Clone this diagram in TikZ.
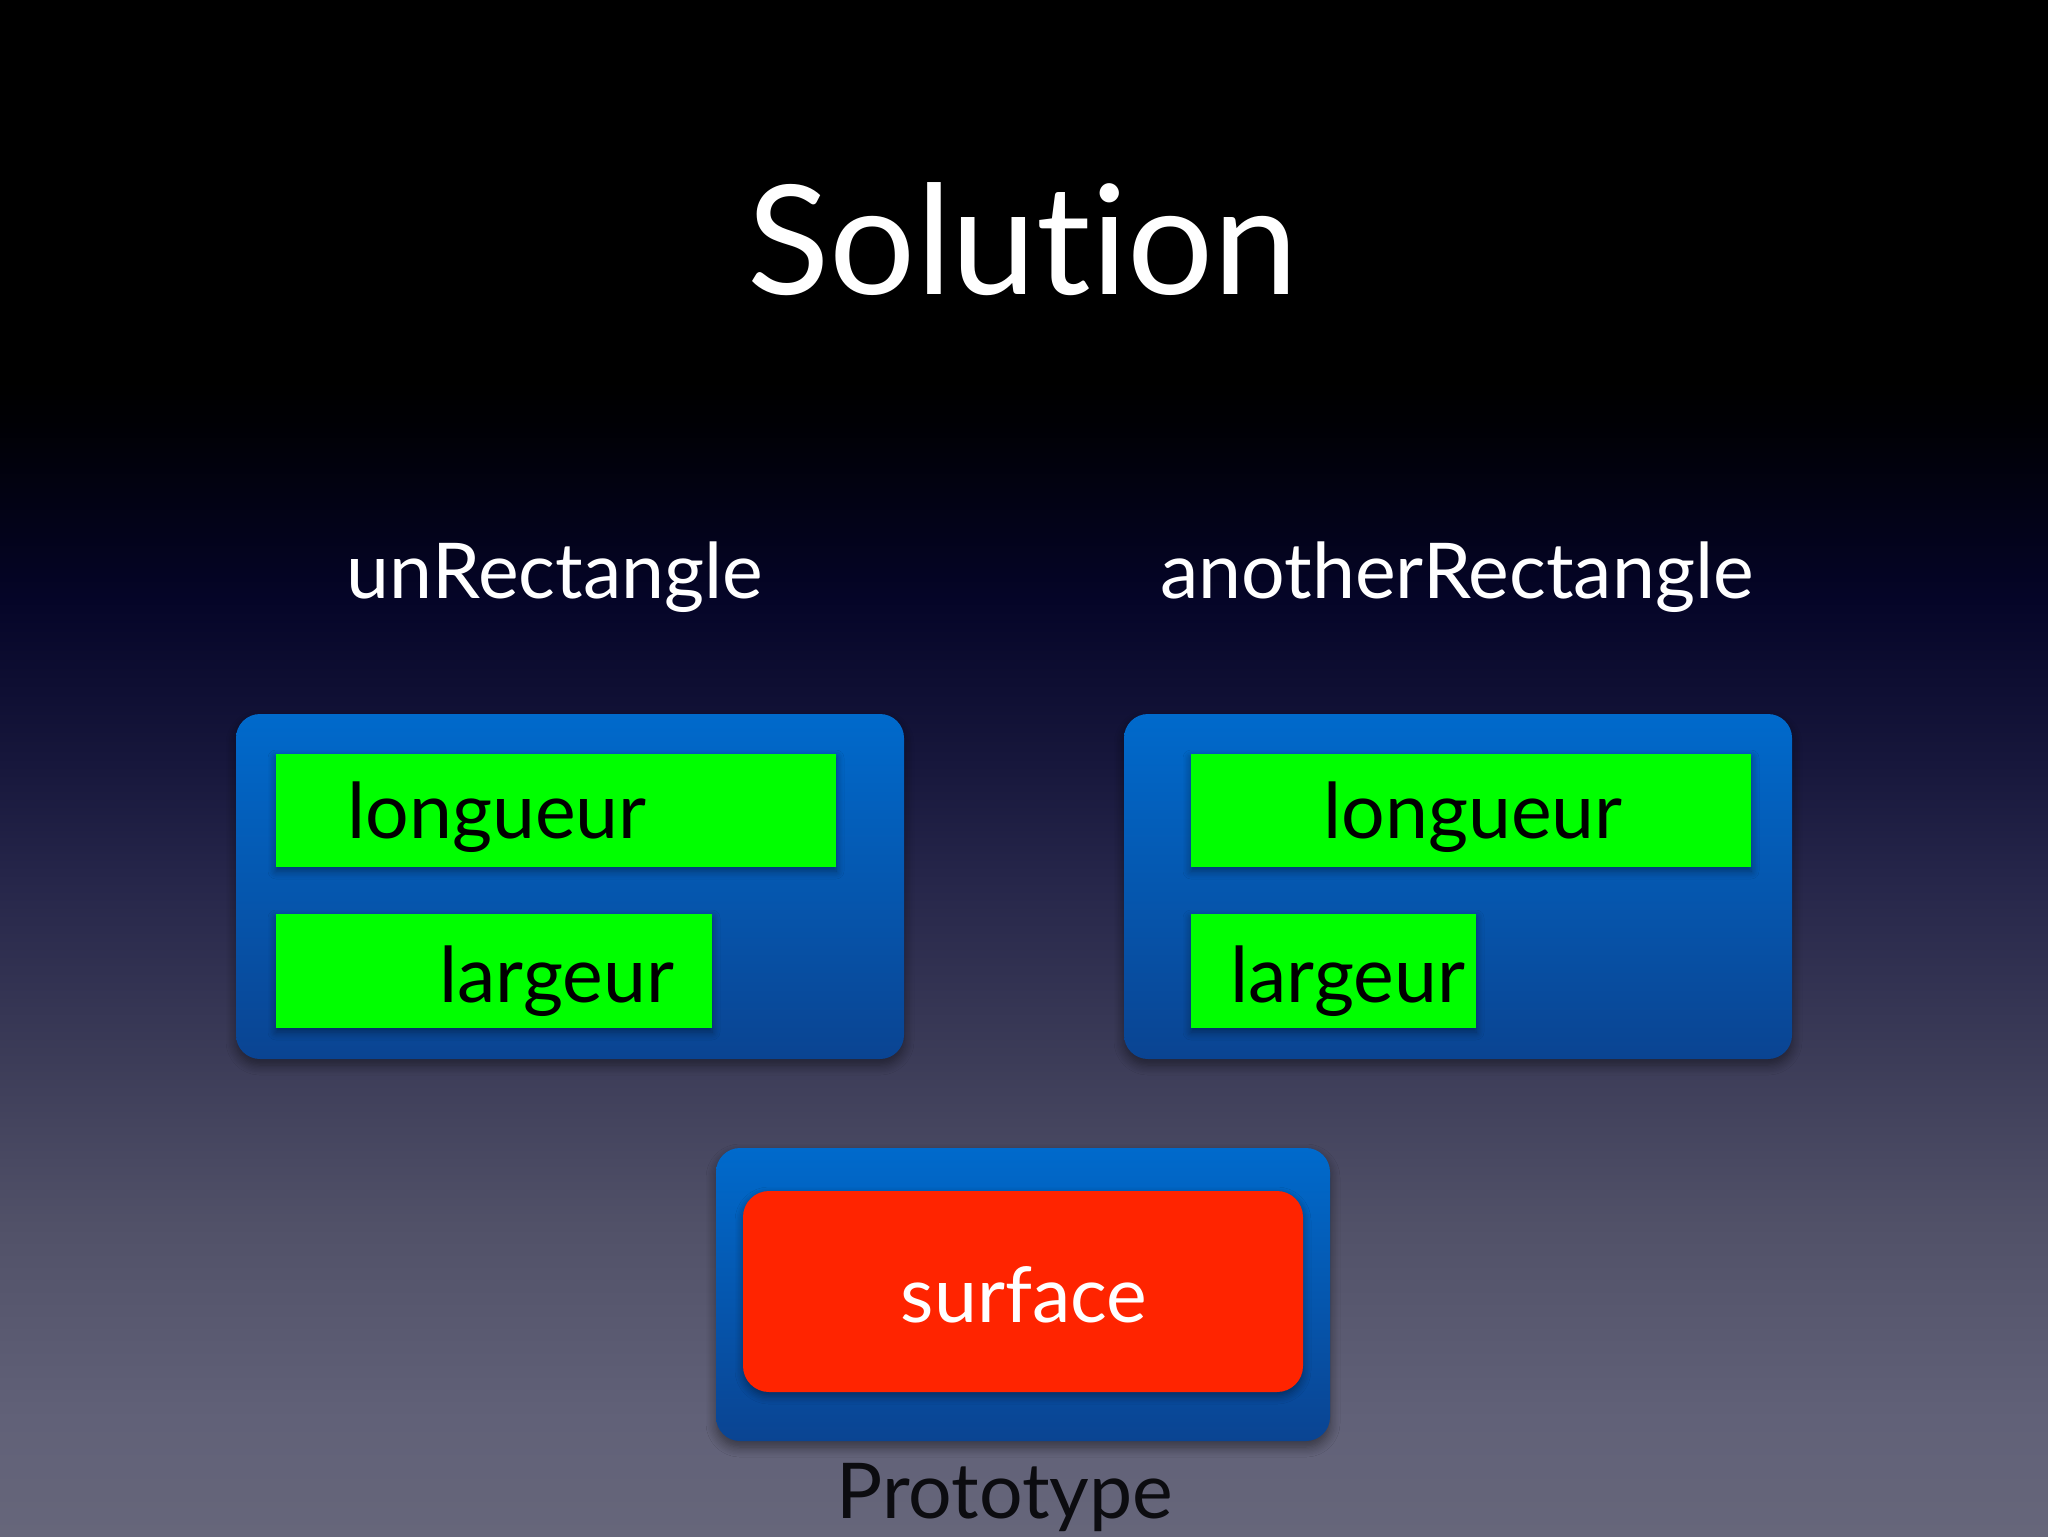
\documentclass[tikz,border=0pt]{standalone}
\usepackage{fontspec}
\setmainfont{Lato}[Ligatures=NoCommon]
\usetikzlibrary{shadows.blur}
\definecolor{bgA}{RGB}{102,102,122}
\definecolor{bgB}{RGB}{97,97,120}
\definecolor{bgC}{RGB}{81,81,104}
\definecolor{bgD}{RGB}{60,60,88}
\definecolor{bgE}{RGB}{38,38,74}
\definecolor{bgF}{RGB}{23,23,60}
\definecolor{bgG}{RGB}{5,5,40}
\definecolor{bgH}{RGB}{0,0,4}
\definecolor{blueTop}{RGB}{0,106,204}
\definecolor{blueBot}{RGB}{10,68,146}
\definecolor{greenbox}{RGB}{0,255,0}
\definecolor{redbox}{RGB}{255,36,0}
\definecolor{darktext}{RGB}{12,12,16}
\pgfdeclareverticalshading{slidebg}{100bp}{%
 color(0bp)=(bgA); color(25bp)=(bgA); color(28.78bp)=(bgB); color(35.12bp)=(bgC);
 color(40.5bp)=(bgD); color(46.35bp)=(bgE); color(50.1bp)=(bgF); color(55.47bp)=(bgG);
 color(61.33bp)=(bgH); color(62.63bp)=(black); color(75bp)=(black); color(100bp)=(black)}
\tikzset{
  bluebox/.style={rounded corners=12pt, top color=blueTop, bottom color=blueBot, draw=none,
    blur shadow={shadow blur steps=8, shadow xshift=0pt, shadow yshift=-3pt, shadow blur radius=5pt, shadow opacity=45}},
  greenrect/.style={fill=greenbox, draw=none, inner sep=0pt,
    blur shadow={shadow blur steps=6, shadow xshift=0pt, shadow yshift=-2pt, shadow blur radius=4pt, shadow opacity=40}},
  redrect/.style={fill=redbox, draw=none, rounded corners=13pt, inner sep=0pt,
    blur shadow={shadow blur steps=6, shadow xshift=0pt, shadow yshift=-2pt, shadow blur radius=4pt, shadow opacity=40}},
  titletext/.style={text=white, inner sep=0pt, anchor=base, font=\fontsize{76}{90}\selectfont},
  labeltext/.style={text=white, inner sep=0pt, anchor=base, font=\fontsize{38.5}{46}\selectfont},
  fieldtext/.style={text=black, inner sep=0pt, anchor=base west, font=\fontsize{38.5}{46}\selectfont},
}
\begin{document}
\begin{tikzpicture}[x=0.5pt,y=-0.5pt]
\useasboundingbox (0,0) rectangle (2048,1536);
\shade[shading=slidebg] (0,0) rectangle (2048,1536);

\node[titletext] (title) at (1023,294) {Solution};
\node[labeltext] (lblA) at (555,598) {unRectangle};
\node[labeltext] (lblB) at (1457,598) {anotherRectangle};

% left object
\node[bluebox, minimum width=334pt, minimum height=172.5pt] (objA) at (570,886.5) {};
\node[greenrect, minimum width=280pt, minimum height=56.5pt] (lonA) at (556,810.5) {};
\node[greenrect, minimum width=218pt, minimum height=57pt] (larA) at (494,971) {};
\node[fieldtext] (lonAt) at (347,838) {longueur};
\node[fieldtext] (larAt) at (439,1002) {largeur};

% right object
\node[bluebox, minimum width=334pt, minimum height=172.5pt] (objB) at (1458,886.5) {};
\node[greenrect, minimum width=280pt, minimum height=56.5pt] (lonB) at (1471,810.5) {};
\node[greenrect, minimum width=142.5pt, minimum height=57pt] (larB) at (1333.5,971) {};
\node[fieldtext] (lonBt) at (1323,838) {longueur};
\node[fieldtext] (larBt) at (1230,1002) {largeur};

% prototype
\node[bluebox, minimum width=307pt, minimum height=146.5pt] (proto) at (1023,1294.5) {};
\node[redrect, minimum width=280pt, minimum height=100.5pt] (surf) at (1023,1291.5) {};
\node[labeltext] (surft) at (1024,1322) {surface};
\node[labeltext, text=darktext] (protot) at (1005,1518) {Prototype};
\end{tikzpicture}
\end{document}
